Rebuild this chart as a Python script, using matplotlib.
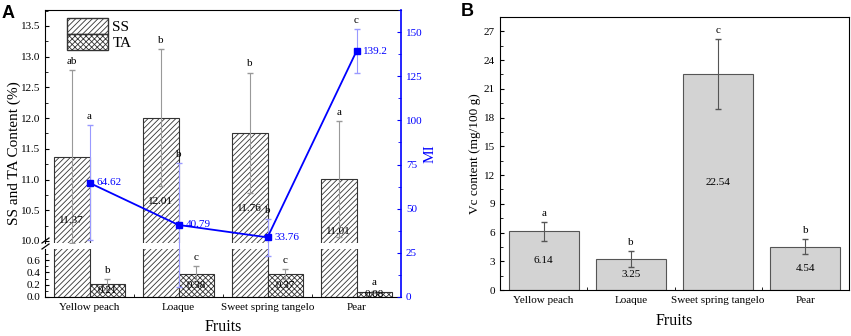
import matplotlib
matplotlib.use('Agg')
import matplotlib.pyplot as plt
import numpy as np
from matplotlib.ticker import MultipleLocator, FixedLocator
from matplotlib.lines import Line2D
from matplotlib.patches import Patch

plt.rcParams['font.family'] = ['Liberation Serif', 'DejaVu Serif']
plt.rcParams['hatch.linewidth'] = 0.6
plt.rcParams['hatch.color'] = '#555555'

fruits = ['Yellow peach', 'Loaque', 'Sweet spring tangelo', 'Pear']
ss_mean = [11.37, 12.01, 11.76, 11.01]
ss_err = [1.41, 1.11, 0.98, 0.94]
ss_letters = ['ab', 'b', 'b', 'a']
ss_label_y = [10.33, 10.65, 10.53, 10.15]
ta_mean = [0.21, 0.38, 0.37, 0.08]
ta_err = [0.08, 0.12, 0.08, 0.02]
ta_letters = ['b', 'c', 'c', 'a']
mi_mean = [64.62, 40.79, 33.76, 139.2]
mi_err = [32.5, 35.0, 10.5, 12.5]
mi_letters = ['a', 'b', 'b', 'c']
vc_mean = [6.14, 3.25, 22.54, 4.54]
vc_err = [0.98, 0.85, 3.65, 0.77]
vc_letters = ['a', 'b', 'c', 'b']

W, H = 851, 336
fig = plt.figure(figsize=(W / 100, H / 100), dpi=100)

def fpos(x0, y0, x1, y1):
    return [x0 / W, 1 - y1 / H, (x1 - x0) / W, (y1 - y0) / H]

x = np.arange(len(fruits))
bw = 0.4
edge = '#333333'
errc = '#999999'
fs_tick = 8
blue = '#0000ff'

axU = fig.add_axes(fpos(45, 10, 401, 243))
axL = fig.add_axes(fpos(45, 249, 401, 297))
axM = fig.add_axes(fpos(45, 10, 401, 297))
axM.patch.set_alpha(0)

for ax in (axU, axL):
    ax.bar(x - bw / 2, ss_mean, bw, facecolor='white', edgecolor=edge, hatch='//////', linewidth=0.8, zorder=2)
    ax.bar(x + bw / 2, ta_mean, bw, facecolor='white', edgecolor=edge, hatch='xxxxxx', linewidth=0.8, zorder=2)
    ax.set_xlim(-0.5, 3.5)
    ax.spines['right'].set_visible(False)
    ax.tick_params(direction='in', labelsize=fs_tick, which='both')
    ax.tick_params(which='major', length=3)
    ax.tick_params(which='minor', length=2)

axU.errorbar(x - bw / 2, ss_mean, yerr=ss_err, fmt='none', ecolor=errc, elinewidth=0.8, capsize=2.5, zorder=3)
axL.errorbar(x + bw / 2, ta_mean, yerr=ta_err, fmt='none', ecolor=errc, elinewidth=0.8, capsize=2.5, zorder=3)

axU.set_ylim(9.967, 13.76)
axU.yaxis.set_major_locator(MultipleLocator(0.5))
axU.yaxis.set_minor_locator(MultipleLocator(0.25))
axU.yaxis.set_major_formatter(matplotlib.ticker.FormatStrFormatter('%.1f'))
axU.spines['bottom'].set_visible(False)
axU.set_xticks([])
axU.tick_params(axis='x', which='both', bottom=False)

axL.set_ylim(0, 0.78)
axL.yaxis.set_major_locator(FixedLocator([0, 0.2, 0.4, 0.6]))
axL.yaxis.set_minor_locator(FixedLocator([0.1, 0.3, 0.5, 0.7]))
axL.yaxis.set_major_formatter(matplotlib.ticker.FormatStrFormatter('%.1f'))
axL.spines['top'].set_visible(False)
axL.set_xticks(x)
axL.set_xticklabels(fruits)
axL.xaxis.set_minor_locator(FixedLocator([0.5, 1.5, 2.5]))
axL.tick_params(axis='x', pad=4)

for i in range(len(fruits)):
    axU.text(x[i] - bw / 2, ss_label_y[i], f'{ss_mean[i]:.2f}', ha='center', va='center', fontsize=fs_tick, zorder=4)
    axU.annotate(ss_letters[i], (x[i] - bw / 2, ss_mean[i] + ss_err[i]), xytext=(0, 3),
                 textcoords='offset points', ha='center', va='bottom', fontsize=fs_tick)
    axL.text(x[i] + bw / 2, ta_mean[i] / 2, f'{ta_mean[i]:.2f}', ha='center', va='center', fontsize=fs_tick, zorder=4)
    axL.annotate(ta_letters[i], (x[i] + bw / 2, ta_mean[i] + ta_err[i]), xytext=(0, 3),
                 textcoords='offset points', ha='center', va='bottom', fontsize=fs_tick)

# MI axis
axM.errorbar(x, mi_mean, yerr=mi_err, fmt='none', ecolor='#9999ff', elinewidth=0.8, capsize=2.5, zorder=3)
axM.plot(x, mi_mean, color=blue, lw=1.3, marker='s', ms=5, zorder=4)
axM.set_xlim(-0.5, 3.5)
axM.set_ylim(0, 162.5)
axM.set_xticks([])
for s in ('left', 'top', 'bottom'):
    axM.spines[s].set_visible(False)
axM.spines['right'].set_color(blue)
axM.spines['right'].set_linewidth(1.2)
axM.yaxis.set_ticks_position('right')
axM.yaxis.set_label_position('right')
axM.yaxis.set_major_locator(MultipleLocator(25))
axM.yaxis.set_minor_locator(MultipleLocator(12.5))
axM.tick_params(axis='y', which='both', direction='in', colors=blue, labelsize=fs_tick)
axM.tick_params(which='major', length=3)
axM.tick_params(which='minor', length=2)
axM.set_ylabel('MI', color=blue, fontsize=11, labelpad=1)
for i in range(len(fruits)):
    axM.annotate(f'{mi_mean[i]:g}' if i == 3 else f'{mi_mean[i]:.2f}', (x[i], mi_mean[i]), xytext=(5, 0),
                 textcoords='offset points', ha='left', va='center', fontsize=fs_tick, color=blue)
    axM.annotate(mi_letters[i], (x[i], mi_mean[i] + mi_err[i]), xytext=(0, 3),
                 textcoords='offset points', ha='center', va='bottom', fontsize=fs_tick)

# legend
h = [Patch(facecolor='white', edgecolor=edge, hatch='//////', label='SS'),
     Patch(facecolor='white', edgecolor=edge, hatch='xxxxxx', label='TA')]
axU.legend(handles=h, loc='upper left', bbox_to_anchor=(0.035, 1.005), frameon=False, fontsize=11,
           handlelength=2.7, handleheight=1.2, handletextpad=0.3, labelspacing=0.0, borderaxespad=0.2)

# break marks
for yy in (241, 247):
    fig.add_artist(Line2D([42 / W, 49 / W], [1 - (yy + 2) / H, 1 - (yy - 3) / H], color='black', lw=0.9))

fig.text(14 / W, 1 - 153 / H, 'SS and TA Content (%)', rotation=90, ha='center', va='center', fontsize=11)
fig.text(223 / W, 1 - 327 / H, 'Fruits', ha='center', va='center', fontsize=11.5)
fig.text(2 / W, 1 - 13 / H, 'A', ha='left', va='center', fontsize=13, fontweight='bold', family='Liberation Sans')

# Panel B
axB = fig.add_axes(fpos(500, 17, 849, 290))
axB.bar(x, vc_mean, 0.8, facecolor='#d3d3d3', edgecolor='#555555', linewidth=0.8, zorder=2)
axB.errorbar(x, vc_mean, yerr=vc_err, fmt='none', ecolor='#555555', elinewidth=0.8, capsize=2.5, zorder=3)
axB.set_xlim(-0.5, 3.5)
axB.set_ylim(0, 28.5)
axB.yaxis.set_major_locator(MultipleLocator(3))
axB.yaxis.set_minor_locator(MultipleLocator(1.5))
axB.set_xticks(x)
axB.set_xticklabels(fruits)
axB.xaxis.set_minor_locator(FixedLocator([0.5, 1.5, 2.5]))
axB.tick_params(direction='in', labelsize=fs_tick, which='both')
axB.tick_params(which='major', length=3)
axB.tick_params(which='minor', length=2)
axB.tick_params(axis='x', pad=4)
for i in range(len(fruits)):
    axB.text(x[i], vc_mean[i] / 2, f'{vc_mean[i]:.2f}', ha='center', va='center', fontsize=fs_tick, zorder=4)
    axB.annotate(vc_letters[i], (x[i], vc_mean[i] + vc_err[i]), xytext=(0, 3),
                 textcoords='offset points', ha='center', va='bottom', fontsize=fs_tick)
axB.set_ylabel('Vc content (mg/100 g)', fontsize=9.5, labelpad=2)
fig.text(674 / W, 1 - 321 / H, 'Fruits', ha='center', va='center', fontsize=11.5)
fig.text(461 / W, 1 - 11 / H, 'B', ha='left', va='center', fontsize=13, fontweight='bold', family='Liberation Sans')

fig.savefig('out.png', dpi=100)
